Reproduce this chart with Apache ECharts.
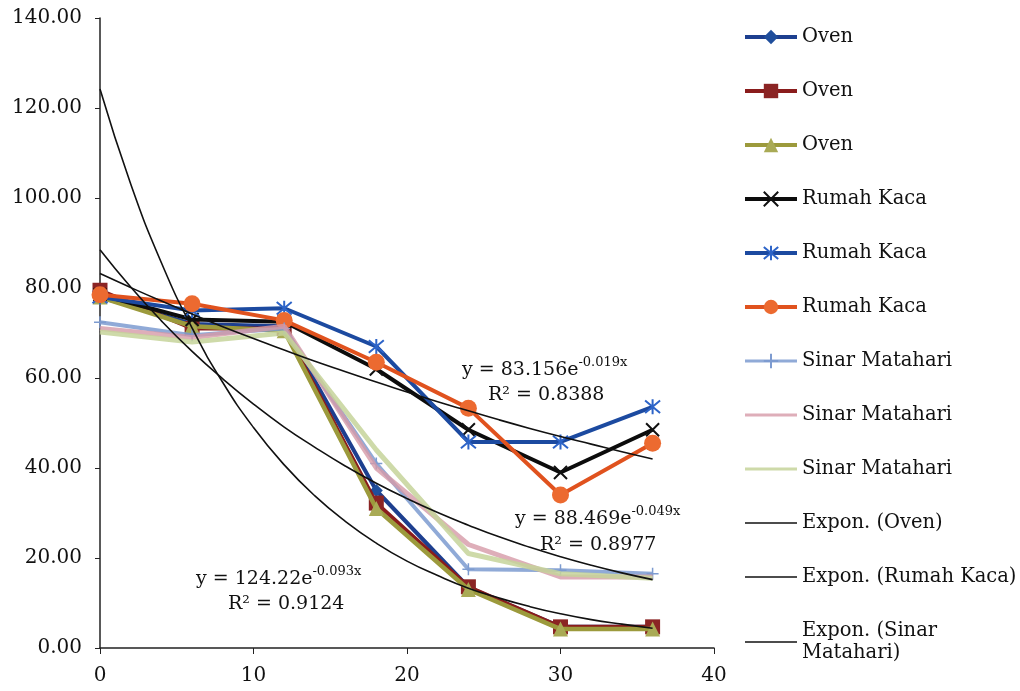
<!DOCTYPE html>
<html><head><meta charset="utf-8">
<script src="https://cdn.jsdelivr.net/npm/echarts@6/dist/echarts.min.js"></script>
<style>html,body{margin:0;padding:0;background:#fff}#c{width:1020px;height:691px}</style>
</head><body><div id="c"></div>
<script>
// ---- data ----
const xValues = [0, 6, 12, 18, 24, 30, 36];
const ovenDiamond  = [78.0, 72.0, 71.5, 35.0, 13.5, 4.7, 4.7];
const ovenSquare   = [79.5, 71.0, 71.0, 32.2, 13.6, 4.7, 4.7];
const ovenTriangle = [78.0, 71.5, 70.5, 31.0, 13.0, 4.2, 4.2];
const rumahX       = [78.5, 73.0, 72.5, 62.0, 48.5, 39.0, 48.5];
const rumahStar    = [78.0, 75.0, 75.5, 67.0, 45.8, 45.8, 53.6];
const rumahCircle  = [78.5, 76.5, 72.8, 63.5, 53.3, 34.0, 45.5];
const sinarBlue    = [72.4, 69.5, 71.0, 41.0, 17.5, 17.3, 16.5];
const sinarRed     = [71.0, 69.0, 71.5, 40.0, 23.0, 15.8, 15.8];
const sinarGreen   = [70.2, 68.0, 70.0, 44.0, 21.0, 16.5, 15.5];
// trendline values
const trendX     = [0, 2, 4, 6, 8, 10, 12, 14, 16, 18, 20, 22, 24, 26, 28, 30, 32, 34, 36];
const trendOven  = [124.2, 103.1, 85.6, 71.1, 59.0, 49.0, 40.7, 33.8, 28.1, 23.3, 19.3, 16.1, 13.3, 11.1, 9.2, 7.6, 6.3, 5.3, 4.4];
const trendRumah = [83.2, 80.1, 77.1, 74.2, 71.4, 68.8, 66.2, 63.7, 61.4, 59.1, 56.9, 54.7, 52.7, 50.7, 48.8, 47.0, 45.3, 43.6, 42.0];
const trendSinar = [88.5, 80.2, 72.7, 65.9, 59.8, 54.2, 49.1, 44.6, 40.4, 36.6, 33.2, 30.1, 27.3, 24.7, 22.4, 20.3, 18.4, 16.7, 15.2];
const seriesNames = ['Oven', 'Oven', 'Oven', 'Rumah Kaca', 'Rumah Kaca', 'Rumah Kaca',
  'Sinar Matahari', 'Sinar Matahari', 'Sinar Matahari',
  'Expon. (Oven)', 'Expon. (Rumah Kaca)', 'Expon. (Sinar\nMatahari)'];
const eqTexts = [
  ['y = 83.156e', '-0.019x', 'R² = 0.8388'],
  ['y = 88.469e', '-0.049x', 'R² = 0.8977'],
  ['y = 124.22e', '-0.093x', 'R² = 0.9124']
];

const zip = (xs, ys) => xs.map((x, i) => [x, ys[i]]);
const FONT = 'DejaVu Serif';
const ids = seriesNames.map((n, i) => 's' + i);
const nameMap = {}; ids.forEach((id, i) => nameMap[id] = seriesNames[i]);

function dataSeries(idx, values, color, symbol, size, itemColor, width, extra) {
  return Object.assign({
    type: 'line', name: ids[idx], data: zip(xValues, values),
    symbol: symbol, symbolSize: size,
    lineStyle: { color: color, width: width },
    itemStyle: { color: itemColor, borderColor: itemColor, borderWidth: 0 },
    z: 2 + idx * 0.01, animation: false
  }, extra || {});
}
function trendSeries(idx, values) {
  return {
    type: 'line', name: ids[idx], data: zip(trendX, values), smooth: true,
    symbol: 'none', lineStyle: { color: '#111', width: 1.6 },
    itemStyle: { color: '#111' }, z: 5, animation: false
  };
}
const xPath = 'path://M0,0L10,10M10,0L0,10';
const starPath = 'path://M0,0L10,10M10,0L0,10M5,-1L5,11';
const plusPath = 'path://M5,0L5,10M0,5L10,5';

const series = [
  dataSeries(0, ovenDiamond, '#1d3f8f', 'diamond', 13, '#1f4e9c', 4),
  dataSeries(1, ovenSquare, '#8a1c1c', 'rect', 15, '#8b2424', 4),
  dataSeries(2, ovenTriangle, '#9c9a3c', 'triangle', 15, '#a9aa55', 4.5),
  dataSeries(3, rumahX, '#0c0c0c', xPath, 13, '#111', 4, { itemStyle: { color: '#111', borderColor: '#111', borderWidth: 2 } }),
  dataSeries(4, rumahStar, '#1c4aa0', starPath, 15, '#2a5fc0', 4, { itemStyle: { color: '#2d64c8', borderColor: '#2d64c8', borderWidth: 2 } }),
  dataSeries(5, rumahCircle, '#e0521e', 'circle', 17, '#ec6a30', 4),
  dataSeries(6, sinarBlue, '#7d9bd0', plusPath, 12, '#7d9bd0', 4, { itemStyle: { color: '#7d9bd0', borderColor: '#7d9bd0', borderWidth: 1.5 }, lineStyle: { color: '#7d9bd0', width: 4, opacity: 0.85 } }),
  dataSeries(7, sinarRed, '#d69aa8', 'none', 0, '#d69aa8', 5, { lineStyle: { color: '#d69aa8', width: 5, opacity: 0.8 } }),
  dataSeries(8, sinarGreen, '#c5d39a', 'none', 0, '#c5d39a', 5, { lineStyle: { color: '#c5d39a', width: 5, opacity: 0.85 } }),
  trendSeries(9, trendOven),
  trendSeries(10, trendRumah),
  trendSeries(11, trendSinar)
];
const legendWidths = [4, 4, 4, 4, 4, 4, 3, 3, 3, 1.6, 1.6, 1.6];
const legendHideSymbol = [false, false, false, false, false, false, false, true, true, true, true, true];

function eqGraphic(t, left, top, rLeft, rTop) {
  return [{
    type: 'text', left: left, top: top, z: 10,
    style: {
      text: '{a|' + t[0] + '}{s|' + t[1] + '}',
      rich: {
        a: { fontFamily: FONT, fontSize: 19, lineHeight: 24, fill: '#111', verticalAlign: 'bottom' },
        s: { fontFamily: FONT, fontSize: 13, lineHeight: 24, fill: '#111', verticalAlign: 'top' }
      }
    }
  }, {
    type: 'text', left: rLeft, top: rTop, z: 10,
    style: { text: t[2], fontFamily: FONT, fontSize: 19, fill: '#111' }
  }];
}

const chart = echarts.init(document.getElementById('c'), null, { renderer: 'canvas' });
chart.setOption({
  backgroundColor: '#fff',
  animation: false,
  grid: { left: 100, right: 306, top: 18, bottom: 43, containLabel: false },
  xAxis: {
    type: 'value', min: 0, max: 40, interval: 10,
    axisLine: { show: true, onZero: true, lineStyle: { color: '#222', width: 1.5 } },
    axisTick: { show: true, length: 6, lineStyle: { color: '#222' } },
    axisLabel: { color: '#111', fontFamily: FONT, fontSize: 20, margin: 18 },
    splitLine: { show: false }
  },
  yAxis: {
    type: 'value', min: 0, max: 140, interval: 20,
    axisLine: { show: true, lineStyle: { color: '#222', width: 1.5 } },
    axisTick: { show: true, length: 5, lineStyle: { color: '#222' } },
    axisLabel: { color: '#111', fontFamily: FONT, fontSize: 20, margin: 18, formatter: v => v.toFixed(2) },
    splitLine: { show: false }
  },
  legend: {
    orient: 'vertical', left: 738, top: 21,
    itemWidth: 52, itemHeight: 18, itemGap: 32,
    data: ids.map((id, i) => {
      const d = { name: id, lineStyle: { width: legendWidths[i] } };
      if (legendHideSymbol[i]) d.itemStyle = { opacity: 0 };
      return d;
    }),
    formatter: n => nameMap[n],
    textStyle: { fontFamily: FONT, fontSize: 19.5, color: '#111', lineHeight: 22 },
    selectedMode: false
  },
  graphic: [].concat(
    eqGraphic(eqTexts[0], 462, 356, 488, 386),
    eqGraphic(eqTexts[1], 515, 505, 540, 536),
    eqGraphic(eqTexts[2], 196, 565, 228, 595)
  ),
  series: series
});
</script></body></html>
